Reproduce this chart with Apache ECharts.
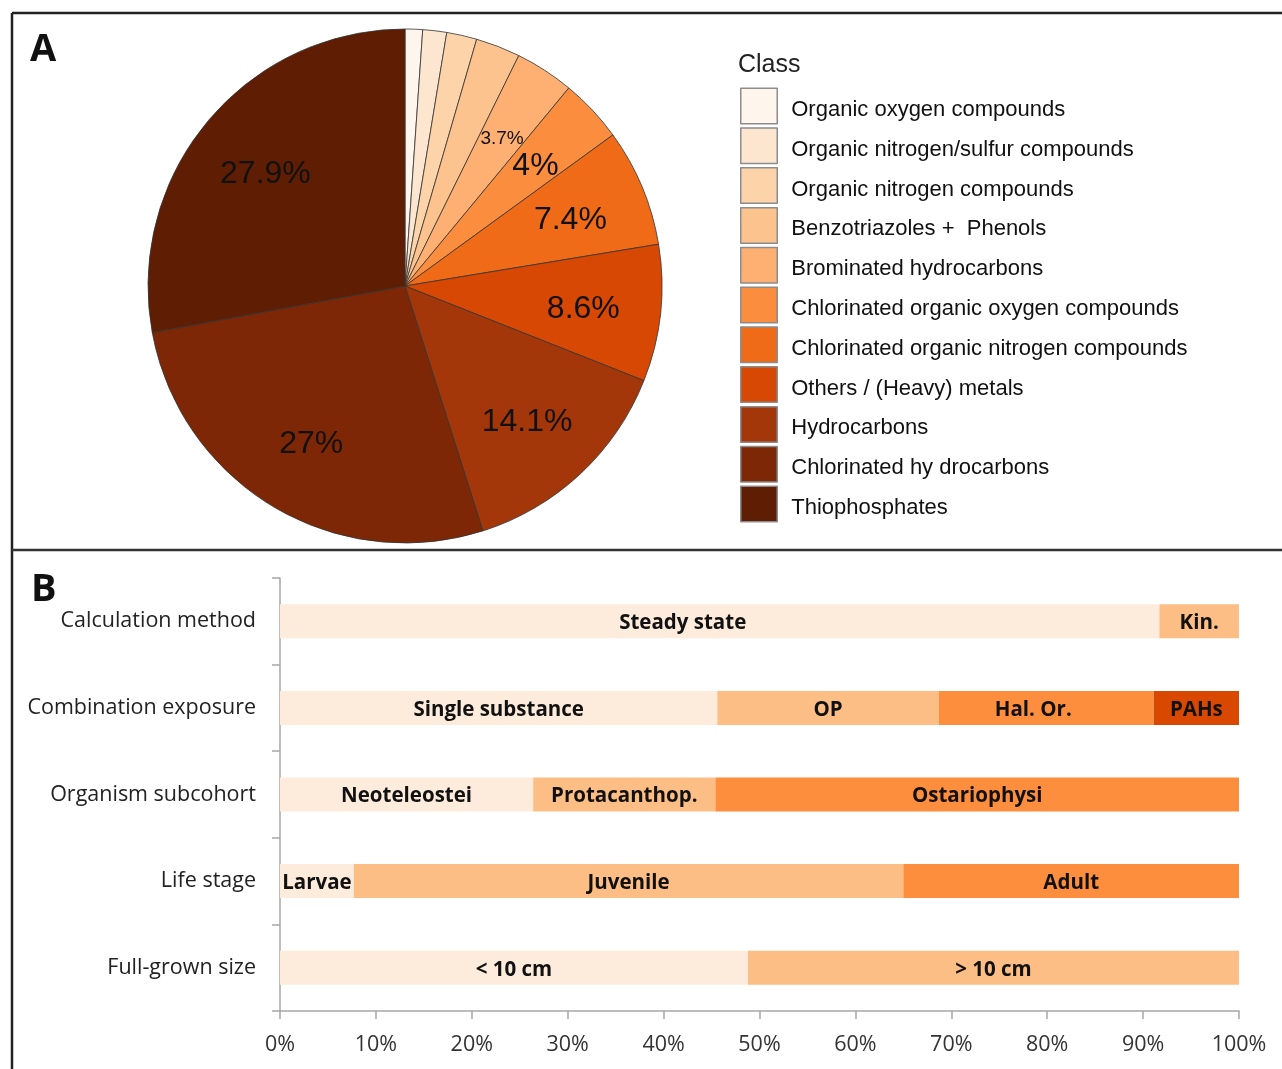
<!DOCTYPE html>
<html>
<head>
<meta charset="utf-8">
<script src="https://cdn.jsdelivr.net/npm/echarts@6/dist/echarts.min.js"></script>
<style>
html,body{margin:0;padding:0;background:#fff;}
#c{width:1282px;height:1069px;}
</style>
</head>
<body>
<div id="c"></div>
<script>
// ---- Panel A data ----
var pieClasses = ['Organic oxygen compounds','Organic nitrogen/sulfur compounds','Organic nitrogen compounds','Benzotriazoles +  Phenols','Brominated hydrocarbons','Chlorinated organic oxygen compounds','Chlorinated organic nitrogen compounds','Others / (Heavy) metals','Hydrocarbons','Chlorinated hy drocarbons','Thiophosphates'];
var pieValues = [1.1, 1.5, 1.9, 2.8, 3.7, 4.0, 7.4, 8.6, 14.1, 27.0, 27.9];
var pieColors = ['#FEF5EC','#FDE6D0','#FDD4AA','#FDC38F','#FDB072','#FA8D3E','#EF6B18','#D74804','#A3370A','#7D2706','#5F1E03'];

// ---- Panel B data ----
var barCategories = ['Calculation method','Combination exposure','Organism subcohort','Life stage','Full-grown size'];
var seg1Values = [91.7, 45.6, 26.4, 7.7, 48.8];
var seg1Names  = ['Steady state','Single substance','Neoteleostei','Larvae','< 10 cm'];
var seg2Values = [8.3, 23.1, 19.0, 57.3, 51.2];
var seg2Names  = ['Kin.','OP','Protacanthop.','Juvenile','> 10 cm'];
var seg3Values = [0, 22.4, 54.6, 35.0, 0];
var seg3Names  = ['','Hal. Or.','Ostariophysi','Adult',''];
var seg4Values = [0, 8.9, 0, 0, 0];
var seg4Names  = ['','PAHs','','',''];
var barColors = ['#FDEBDC','#FDBE86','#FC8E3E','#D84801'];

var chart = echarts.init(document.getElementById('c'), null, {renderer:'canvas'});

var pieData = pieClasses.map(function(n,i){
  return {name:n, value:pieValues[i], itemStyle:{color:pieColors[i]}};
});
var pieLabelData = pieValues.map(function(v){
  return {value:v, label:{show: v >= 3.5, fontSize: v < 3.8 ? 19 : 32}};
});

// label nudges (style only) for labels that are not centred in the reference
var labelNudge = {0:{0:[-37,2]}, 2:{1:[-13,2]}};

function barSeries(idx, vals, names, color){
  var nudge = labelNudge[idx] || {};
  return {
    type:'bar', stack:'total', barWidth:34,
    data: vals.map(function(v,i){
      var d = {value:v};
      if (nudge[i]) d.label = {offset:nudge[i]};
      return d;
    }),
    itemStyle:{color:color},
    label:{
      show:true, position:'inside', color:'#111', offset:[0,2],
      fontFamily:'Open Sans', fontWeight:'bold', fontSize:20.5,
      formatter:function(p){ return names[p.dataIndex]; }
    },
    silent:true
  };
}

var RADIUS = 257;
var option = {
  animation:false,
  textStyle:{fontFamily:'Liberation Sans'},
  title:{
    text:'Class', left:738, top:53, padding:0,
    textStyle:{fontSize:25, fontWeight:'normal', color:'#222', fontFamily:'Liberation Sans'}
  },
  legend:{
    orient:'vertical', left:740, top:87.5, padding:0,
    data: pieClasses,
    icon:'rect', itemWidth:36.5, itemHeight:35.5, itemGap:2.8,
    itemStyle:{borderColor:'#8c8c8c', borderWidth:1.5},
    formatter:function(name){ return '{t|' + name + '}'; },
    textStyle:{
      fontSize:22, color:'#111', fontFamily:'Liberation Sans', padding:[0,0,0,9],
      rich:{t:{fontSize:22, color:'#111', fontFamily:'Liberation Sans', padding:[8,0,0,0]}}
    },
    selectedMode:false
  },
  grid:{left:280, right:43, top:578, bottom:58, containLabel:false},
  xAxis:{
    type:'value', min:0, max:100, interval:10,
    axisLine:{show:true, lineStyle:{color:'#A6A6A6', width:1.5}},
    axisTick:{show:true, length:8, lineStyle:{color:'#A6A6A6', width:1.5}},
    splitLine:{show:false},
    axisLabel:{formatter:'{value}%', fontSize:21.5, color:'#333', fontFamily:'Open Sans', margin:23}
  },
  yAxis:{
    type:'category', inverse:true, data:barCategories,
    axisLine:{show:true, lineStyle:{color:'#A6A6A6', width:1.5}},
    axisTick:{show:true, length:8, lineStyle:{color:'#A6A6A6', width:1.5}},
    axisLabel:{fontSize:21.5, color:'#222', fontFamily:'Open Sans', margin:24, padding:[4,0,0,0]}
  },
  series:[
    {
      type:'pie', center:[405,286], radius:[0,RADIUS],
      startAngle:90, clockwise:true, silent:true,
      data:pieData,
      label:{show:false}, labelLine:{show:false},
      itemStyle:{borderColor:'#333', borderWidth:0.8}
    },
    {
      type:'pie', center:[405,286], radius:[RADIUS*0.38,RADIUS],
      startAngle:90, clockwise:true, silent:true,
      data:pieLabelData,
      itemStyle:{color:'rgba(0,0,0,0)', borderWidth:0},
      label:{position:'inside', color:'#111', fontFamily:'Liberation Sans', offset:[-1,4],
             formatter:function(p){ return p.value + '%'; }},
      labelLine:{show:false}
    },
    barSeries(0, seg1Values, seg1Names, barColors[0]),
    barSeries(1, seg2Values, seg2Names, barColors[1]),
    barSeries(2, seg3Values, seg3Names, barColors[2]),
    barSeries(3, seg4Values, seg4Names, barColors[3])
  ],
  graphic:[
    {type:'line', shape:{x1:12, y1:13, x2:1282, y2:13}, style:{stroke:'#222', lineWidth:2.5}},
    {type:'line', shape:{x1:12, y1:13, x2:12, y2:1069}, style:{stroke:'#222', lineWidth:2.5}},
    {type:'line', shape:{x1:12, y1:550, x2:1282, y2:550}, style:{stroke:'#333', lineWidth:2.5}},
    {type:'text', left:30, top:31, style:{text:'A', font:'bold 38px "Open Sans"', fill:'#111'}},
    {type:'text', left:31, top:571, style:{text:'B', font:'bold 38px "Open Sans"', fill:'#111'}}
  ]
};
chart.setOption(option);
</script>
</body>
</html>
